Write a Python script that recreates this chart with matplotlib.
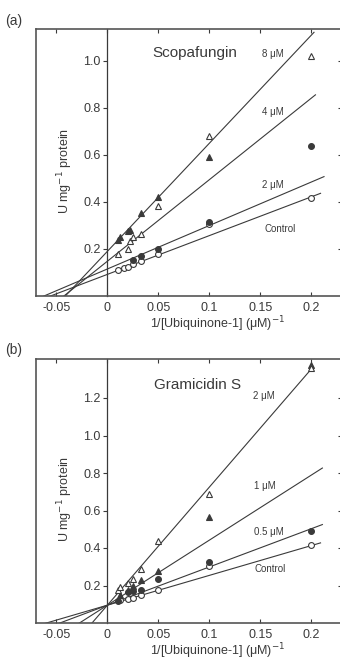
import numpy as np
import matplotlib.pyplot as plt

plt.rcParams['font.family'] = ['Liberation Sans', 'DejaVu Sans']

# ---- panel (a): Scopafungin ----
a_ctrl_x = [0.01, 0.0167, 0.02, 0.025, 0.0333, 0.05, 0.1, 0.2]
a_ctrl_y = [0.11, 0.12, 0.125, 0.135, 0.15, 0.18, 0.305, 0.415]
a_2um_x = [0.025, 0.0333, 0.05, 0.1, 0.2]
a_2um_y = [0.155, 0.17, 0.20, 0.315, 0.64]
a_4um_x = [0.01, 0.02, 0.0222, 0.025, 0.0333, 0.05, 0.1, 0.2]
a_4um_y = [0.18, 0.20, 0.235, 0.25, 0.265, 0.385, 0.68, 1.02]
a_8um_x = [0.01, 0.0125, 0.02, 0.0222, 0.0333, 0.05, 0.1]
a_8um_y = [0.24, 0.25, 0.275, 0.28, 0.355, 0.42, 0.59]

# fitted lines (intercept, slope, last x)
a_fit_b = [0.092, 0.115, 0.148, 0.19]
a_fit_m = [1.65, 1.85, 3.47, 4.6]
a_fit_end = [0.209, 0.2124, 0.204, 0.2026]
a_line_labels = ["Control", "2 \u03bcM", "4 \u03bcM", "8 \u03bcM"]
a_label_xy = [(0.169, 0.285), (0.162, 0.472), (0.162, 0.783), (0.162, 1.03)]

# ---- panel (b): Gramicidin S ----
b_ctrl_x = [0.0125, 0.02, 0.025, 0.0333, 0.05, 0.1, 0.2]
b_ctrl_y = [0.125, 0.13, 0.135, 0.15, 0.175, 0.305, 0.415]
b_05um_x = [0.01, 0.02, 0.025, 0.0333, 0.05, 0.1, 0.2]
b_05um_y = [0.12, 0.165, 0.17, 0.175, 0.235, 0.325, 0.49]
b_1um_x = [0.0125, 0.02, 0.025, 0.0333, 0.05, 0.1, 0.2]
b_1um_y = [0.15, 0.175, 0.195, 0.23, 0.28, 0.565, 1.375]
b_2um_x = [0.01, 0.0125, 0.02, 0.025, 0.0333, 0.05, 0.1, 0.2]
b_2um_y = [0.175, 0.19, 0.215, 0.235, 0.29, 0.435, 0.69, 1.36]

b_fit_b = [0.095, 0.095, 0.095, 0.095]
b_fit_m = [1.59, 2.04, 3.47, 6.3]
b_fit_end = [0.209, 0.2108, 0.2108, 0.201]
b_line_labels = ["Control", "0.5 \u03bcM", "1 \u03bcM", "2 \u03bcM"]
b_label_xy = [(0.16, 0.288), (0.158, 0.485), (0.154, 0.73), (0.153, 1.21)]

xticks = [-0.05, 0, 0.05, 0.1, 0.15, 0.2]
xticklabels = ["-0.05", "0", "0.05", "0.1", "0.15", "0.2"]

col = '#3a3a3a'


def draw_panel(ax, series, fit_b, fit_m, fit_end, labels, label_xy,
               title, title_xy, ymax, yticks):
    ax.set_xlim(-0.07, 0.232)
    ax.set_ylim(0, ymax)
    for b, m, xe in zip(fit_b, fit_m, fit_end):
        xs = np.array([-0.07, xe])
        ax.plot(xs, b + m * xs, color=col, lw=0.8)
    for x, y, mk, filled in series:
        ax.plot(x, y, linestyle='none', marker=mk, markersize=4.2,
                markeredgecolor=col, markeredgewidth=0.8,
                markerfacecolor=col if filled else 'white', zorder=3)
    for lab, (tx, ty) in zip(labels, label_xy):
        ax.text(tx, ty, lab, fontsize=7, color=col, ha='center', va='center')
    ax.text(title_xy[0], title_xy[1], title, fontsize=11, color=col,
            ha='center', va='center')

    # y axis sits at x = 0, the frame stays round the plot
    ax.spines['left'].set_position(('data', 0))
    ax.spines['left'].set_linewidth(0.9)
    ax.plot([0, 0], [0, 1], transform=ax.transAxes, color='#555555',
            lw=1.2, clip_on=False)
    for s in ['top', 'bottom', 'right']:
        ax.spines[s].set_color('#555555')
        ax.spines[s].set_linewidth(1.2)
    ax.spines['left'].set_color(col)

    ax.set_xticks(xticks)
    ax.set_xticklabels(xticklabels)
    ax.set_yticks(yticks)
    ax.set_yticklabels(["%.1f" % t for t in yticks])
    ax.tick_params(axis='x', direction='in', top=True, length=3,
                   labelsize=9, colors=col, pad=4)
    ax.tick_params(axis='y', direction='out', length=3, labelsize=9,
                   colors=col, pad=2)

    # small inward ticks on the right edge
    ax2 = ax.twinx()
    ax2.set_ylim(0, ymax)
    ax2.set_yticks(yticks)
    ax2.tick_params(axis='y', direction='in', length=4, labelright=False,
                    colors=col)
    for s in ax2.spines.values():
        s.set_visible(False)

    ax.text(0.095, 0.47, "U mg$^{-1}$ protein", transform=ax.transAxes,
            rotation=90, fontsize=9, color=col, ha='center', va='center')
    ax.text(0.59, -0.105, "1/[Ubiquinone-1] (\u03bcM)$^{-1}$",
            transform=ax.transAxes, fontsize=9, color=col,
            ha='center', va='center')


fig = plt.figure(figsize=(3.4, 6.61), dpi=100)
ax_a = fig.add_axes([36 / 340, 1 - 296 / 661, 308 / 340, 267 / 661])
ax_b = fig.add_axes([36 / 340, 1 - 623 / 661, 308 / 340, 264 / 661])

draw_panel(ax_a,
           [(a_ctrl_x, a_ctrl_y, 'o', False), (a_2um_x, a_2um_y, 'o', True),
            (a_4um_x, a_4um_y, '^', False), (a_8um_x, a_8um_y, '^', True)],
           a_fit_b, a_fit_m, a_fit_end, a_line_labels, a_label_xy,
           "Scopafungin", (0.086, 1.034), 1.136, [0.2, 0.4, 0.6, 0.8, 1.0])

draw_panel(ax_b,
           [(b_ctrl_x, b_ctrl_y, 'o', False), (b_05um_x, b_05um_y, 'o', True),
            (b_1um_x, b_1um_y, '^', True), (b_2um_x, b_2um_y, '^', False)],
           b_fit_b, b_fit_m, b_fit_end, b_line_labels, b_label_xy,
           "Gramicidin S", (0.088, 1.27), 1.408,
           [0.2, 0.4, 0.6, 0.8, 1.0, 1.2])

fig.text(14 / 340, 1 - 21 / 661, "(a)", fontsize=10, color=col,
         ha='center', va='center')
fig.text(14 / 340, 1 - 350 / 661, "(b)", fontsize=10, color=col,
         ha='center', va='center')

fig.savefig("out.png", dpi=100)
